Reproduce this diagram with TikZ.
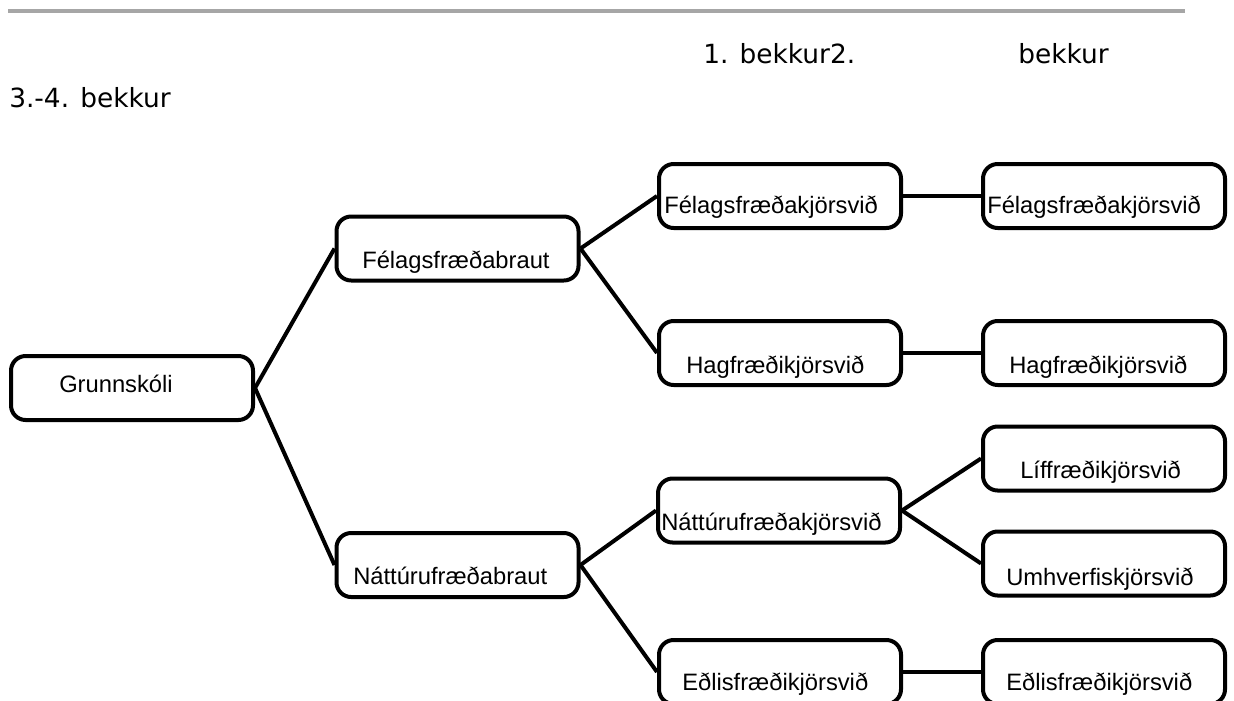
\documentclass[tikz,border=0pt]{standalone}
\usepackage{fontspec}
\setmainfont{Liberation Sans}
\newfontfamily\bekkfont{DejaVu Sans}
\begin{document}
\begin{tikzpicture}[x=0.75pt,y=0.75pt,yscale=-1,xscale=1,
  kassi/.style={draw, line width=3pt, rounded corners=11pt, minimum width=181.5pt, minimum height=48pt, inner sep=0pt},
  kassitexti/.style={anchor=base west, inner sep=0pt, font=\fontsize{17.8pt}{21pt}\selectfont},
  bekkur/.style={anchor=base west, inner sep=0pt, font=\bekkfont\fontsize{19.8pt}{24pt}\selectfont},
  tengill/.style={line width=3pt}]
\useasboundingbox (0,0) rectangle (1234,700);
\clip (0,0) rectangle (1234,700);

%Shape: Line (top rule)
\draw [color={rgb, 255:red, 166; green, 166; blue, 166 }, line width=3pt] (8,11) -- (1185,11);

% Text Node
\node (b1) [bekkur] at (703,63) {1. bekkur2.};
% Text Node
\node (b2) [bekkur] at (1018,63) {bekkur};
% Text Node
\node (b3) [bekkur] at (9,107) {3.-4. bekkur};

%Shape: Rounded Rect
\node (grunn) [kassi] at (132,388) {};
\node (felbraut) [kassi] at (457.5,248.5) {};
\node (natbraut) [kassi] at (457.5,565) {};
\node (felkjor) [kassi] at (780,196) {};
\node (hagkjor) [kassi] at (780,353) {};
\node (natkjor) [kassi] at (779,510.5) {};
\node (edlkjor) [kassi] at (780,672) {};
\node (felkjor2) [kassi] at (1104,196) {};
\node (hagkjor2) [kassi] at (1104,353) {};
\node (lifkjor) [kassi] at (1104,458.5) {};
\node (umhkjor) [kassi] at (1104,563.5) {};
\node (edlkjor2) [kassi] at (1104,672) {};

% Text Node
\node (tgrunn) [kassitexti] at (59,392) {Grunnskóli};
\node (tfelbraut) [kassitexti] at (362,268) {Félagsfræðabraut};
\node (tnatbraut) [kassitexti] at (353,584) {Náttúrufræðabraut};
\node (tfelkjor) [kassitexti] at (664,213) {Félagsfræðakjörsvið};
\node (thagkjor) [kassitexti] at (686,373) {Hagfræðikjörsvið};
\node (tnatkjor) [kassitexti] at (661,530) {Náttúrufræðakjörsvið};
\node (tedlkjor) [kassitexti] at (682,690) {Eðlisfræðikjörsvið};
\node (tfelkjor2) [kassitexti] at (987,213) {Félagsfræðakjörsvið};
\node (thagkjor2) [kassitexti] at (1009,373) {Hagfræðikjörsvið};
\node (tlifkjor) [kassitexti] at (1020,478) {Líffræðikjörsvið};
\node (tumhkjor) [kassitexti] at (1006,585) {Umhverfiskjörsvið};
\node (tedlkjor2) [kassitexti] at (1006,690) {Eðlisfræðikjörsvið};

%Shape: Lines
\draw [tengill] (grunn.east) -- (felbraut.west);
\draw [tengill] (grunn.east) -- (natbraut.west);
\draw [tengill] (felbraut.east) -- (felkjor.west);
\draw [tengill] (felbraut.east) -- (hagkjor.west);
\draw [tengill] (natbraut.east) -- (natkjor.west);
\draw [tengill] (natbraut.east) -- (edlkjor.west);
\draw [tengill] (natkjor.east) -- (lifkjor.west);
\draw [tengill] (natkjor.east) -- (umhkjor.west);
\draw [tengill] (felkjor.east) -- (felkjor2.west);
\draw [tengill] (hagkjor.east) -- (hagkjor2.west);
\draw [tengill] (edlkjor.east) -- (edlkjor2.west);

\end{tikzpicture}
\end{document}
